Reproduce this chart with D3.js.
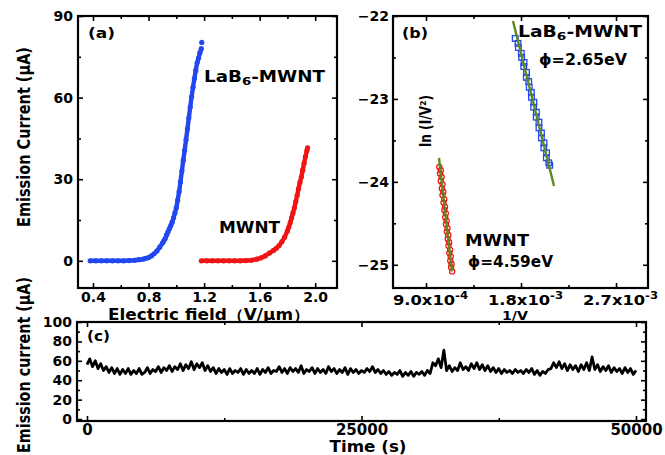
<!DOCTYPE html>
<html>
<head>
<meta charset="utf-8">
<script src="https://cdn.jsdelivr.net/npm/d3@7"></script>
<style>
body { margin: 0; background: #fff; }
text { font-family: "DejaVu Sans", sans-serif; font-weight: bold; fill: #000; }
</style>
</head>
<body>
<script>
// (a) emission current vs electric field
var lab6Field   = [0.38,0.42,0.46,0.50,0.54,0.58,0.62,0.66,0.70,0.73,0.76,0.78,0.80,0.82,0.84,0.86,0.88,0.90,0.91,0.92,0.93,0.94,0.95,0.96,0.97,0.98,0.99,1.00,1.01,1.02,1.03,1.04,1.05,1.06,1.07,1.08,1.09,1.10,1.11,1.12,1.13,1.14,1.15,1.16,1.17,1.18,1.183];
var lab6Current = [0,0,0,0,0,0,0,0.1,0.2,0.4,0.6,0.9,1.2,1.8,2.6,3.6,5.0,6.5,7.3,8.2,9.5,10.6,11.8,12.9,14.2,15.8,17.6,19.5,22.3,25.4,29,33,37,40.6,44.5,48.5,52.5,56.5,60.3,63.8,67,70,72.8,74.5,76.5,78,80.3];
var mwntField   = [1.18,1.22,1.26,1.30,1.34,1.38,1.42,1.46,1.50,1.54,1.58,1.61,1.64,1.67,1.70,1.72,1.74,1.76,1.78,1.80,1.81,1.82,1.83,1.84,1.85,1.86,1.87,1.88,1.89,1.90,1.91,1.92,1.93,1.94,1.945];
var mwntCurrent = [0,0,0,0,0,0,0,0,0.1,0.2,0.6,1.1,1.8,2.8,3.8,4.6,5.6,7.0,8.7,11,12.4,14,15.8,17.6,19.5,21.8,24,26.5,28.8,30.8,33.3,35.8,38.3,40.5,41.5];
var fieldTicks = [0.4,0.8,1.2,1.6,2.0];
var currentTicks = [0,30,60,90];

// (b) Fowler-Nordheim plot
var lab6InvV = [0.001745,0.001772,0.001775,0.001803,0.001806,0.001829,0.001826,0.001852,0.001850,0.001873,0.001878,0.001898,0.001899,0.001922,0.001920,0.001946,0.001944,0.001970,0.001970,0.001994,0.001993,0.002018,0.002016,0.002042,0.002040,0.002063,0.002072];
var lab6Ln   = [-22.27,-22.33,-22.38,-22.45,-22.50,-22.56,-22.61,-22.68,-22.74,-22.79,-22.86,-22.92,-22.98,-23.04,-23.10,-23.16,-23.22,-23.28,-23.35,-23.41,-23.47,-23.53,-23.59,-23.65,-23.71,-23.77,-23.80];
var mwntInvV = [0.001026,0.001040,0.001033,0.001048,0.001040,0.001057,0.001050,0.001064,0.001056,0.001073,0.001066,0.001080,0.001074,0.001088,0.001082,0.001096,0.001089,0.001104,0.001097,0.001111,0.001106,0.001119,0.001113,0.001128,0.001121,0.001134,0.001130,0.001142,0.001138,0.001148];
var mwntLn   = [-23.82,-23.86,-23.90,-23.94,-23.99,-24.03,-24.08,-24.12,-24.16,-24.21,-24.25,-24.30,-24.34,-24.38,-24.43,-24.47,-24.51,-24.56,-24.60,-24.64,-24.69,-24.73,-24.77,-24.82,-24.86,-24.90,-24.95,-24.99,-25.03,-25.08];
var lab6FitInvV = [0.001724, 0.002113], lab6FitLn = [-22.06, -24.05];
var mwntFitInvV = [0.001023, 0.001146], mwntFitLn = [-23.71, -25.08];
var invVTicks = [["9.0x10","-4",0.0009],["1.8x10","-3",0.0018],["2.7x10","-3",0.0027]];
var lnTicks = [-22,-23,-24,-25];

// (c) stability, one reading every 250 s
var stability = [
 56,62,54,60,52,57,50,54,48,53,47,52,46,51,47,52,46,50,47,52,46,
 48,53,47,51,49,54,48,53,50,55,49,54,51,57,50,56,52,59,51,57,
 53,58,50,55,49,53,47,52,48,51,46,52,47,50,48,52,46,51,47,50,
 47,52,46,51,48,53,47,50,49,54,48,52,47,53,49,52,48,55,47,51,
 49,53,47,52,48,51,47,54,49,52,47,51,48,53,46,52,48,51,47,50,
 48,52,49,54,48,51,47,50,46,49,45,48,46,50,44,48,45,49,44,48,
 46,49,45,50,47,58,55,62,53,71,50,55,49,53,50,58,51,54,50,57,
 52,58,51,56,50,55,49,53,48,52,47,51,48,50,47,51,48,50,47,51,
 48,52,46,50,45,49,47,51,52,58,53,59,52,57,50,56,51,55,49,56,
 51,58,50,64,51,56,49,54,50,55,48,53,49,52,47,53,48,52,46,50];
var times = d3.range(0, 50001, 250);
var timeTicks = [0,25000,50000];
var stabTicks = [0,20,40,60,80,100];

var blue = "#2246f0", red = "#f01414", green = "#5d8a1e";

var svg = d3.select("body").append("svg")
    .attr("width", 665)
    .attr("height", 455);

function ticks(axisFn, scale, pos, values, size, label, pad) {
  var a = axisFn(scale).tickValues(values).tickSize(-size).tickPadding(pad || 5);
  if (!label) a.tickFormat("");
  var g = svg.append("g").attr("transform", pos).call(a);
  g.select(".domain").remove();
  g.selectAll("line").attr("stroke", "#000").attr("stroke-width", 1.6);
  g.selectAll("text").attr("font-size", 14).style("font-family", "DejaVu Sans").style("font-weight", "bold");
  return g;
}

function frame(l, t, r, b) {
  svg.append("rect")
    .attr("x", l).attr("y", t)
    .attr("width", r - l).attr("height", b - t)
    .attr("fill", "none").attr("stroke", "#000").attr("stroke-width", 2.2);
}

function label(txt, x, y, size, len, anchor) {
  var t = svg.append("text")
    .attr("x", x).attr("y", y)
    .attr("font-size", size)
    .attr("text-anchor", anchor || "start")
    .text(txt);
  if (len) t.attr("textLength", len).attr("lengthAdjust", "spacingAndGlyphs");
  return t;
}

function lab6Label(x, y, len) {
  var t = svg.append("text").attr("x", x).attr("y", y).attr("font-size", 15)
    .attr("textLength", len).attr("lengthAdjust", "spacingAndGlyphs");
  t.append("tspan").text("LaB");
  t.append("tspan").attr("font-size", 11).attr("dy", 3).text("6");
  t.append("tspan").attr("dy", -3).text("-MWNT");
}

// ---------- (a) ----------
var xa = d3.scaleLinear().domain([0.292, 2.157]).range([78, 337]);
var ya = d3.scaleLinear().domain([-10, 90]).range([288, 16]);

ticks(d3.axisBottom, xa, "translate(0,288)", fieldTicks, 5, true, 4)
  .selectAll("text").text(function(d) { return d3.format(".1f")(d); });
ticks(d3.axisBottom, xa, "translate(0,288)", [0.6,1.0,1.4,1.8], 3);
ticks(d3.axisTop, xa, "translate(0,16)", fieldTicks, 5);
ticks(d3.axisTop, xa, "translate(0,16)", [0.6,1.0,1.4,1.8], 3);
ticks(d3.axisLeft, ya, "translate(78,0)", currentTicks, 5, true, 5);
ticks(d3.axisLeft, ya, "translate(78,0)", [15,45,75], 3);
ticks(d3.axisRight, ya, "translate(337,0)", currentTicks, 5);
ticks(d3.axisRight, ya, "translate(337,0)", [15,45,75], 3);

var lineA = d3.line().x(function(d) { return xa(d[0]); }).y(function(d) { return ya(d[1]); });
[[lab6Field, lab6Current, blue], [mwntField, mwntCurrent, red]].forEach(function(s) {
  var pts = d3.zip(s[0], s[1]);
  svg.append("path").attr("d", lineA(pts.slice(0, -1))).attr("fill", "none")
    .attr("stroke", s[2]).attr("stroke-width", 4.4).attr("stroke-linejoin", "round");
  svg.append("g").selectAll("circle").data(pts).enter().append("circle")
    .attr("cx", function(d) { return xa(d[0]); })
    .attr("cy", function(d) { return ya(d[1]); })
    .attr("r", 2.6).attr("fill", s[2]);
});
frame(78, 16, 337, 288);

label("(a)", 88, 38, 14, 27);
lab6Label(204, 82, 121);
label("MWNT", 219, 233, 15, 61);
label("Electric field（V/μm）", 209, 320, 15, 202, "middle");
svg.append("text").attr("transform", "translate(30,137) rotate(-90)")
  .attr("text-anchor", "middle").attr("font-size", 17)
  .attr("textLength", 180).attr("lengthAdjust", "spacingAndGlyphs")
  .text("Emission Current (μA)");

// ---------- (b) ----------
var xb = d3.scaleLinear().domain([0.0005874, 0.003003]).range([393, 648]);
var yb = d3.scaleLinear().domain([-25.28, -22]).range([288, 16]);

var bx = ticks(d3.axisBottom, xb, "translate(0,288)", invVTicks.map(function(d) { return d[2]; }), 5);
bx.selectAll(".tick").append("text")
  .attr("x", 4).attr("y", 17)
  .attr("text-anchor", "middle").attr("font-size", 14)
  .attr("textLength", 75).attr("lengthAdjust", "spacingAndGlyphs")
  .each(function(d, i) {
    var t = d3.select(this);
    t.append("tspan").text(invVTicks[i][0]);
    t.append("tspan").attr("font-size", 10).attr("dy", -6).text(invVTicks[i][1]);
  });
ticks(d3.axisBottom, xb, "translate(0,288)", [0.00135, 0.00225], 3);
ticks(d3.axisTop, xb, "translate(0,16)", invVTicks.map(function(d) { return d[2]; }), 5);
ticks(d3.axisTop, xb, "translate(0,16)", [0.00135, 0.00225], 3);
ticks(d3.axisLeft, yb, "translate(393,0)", lnTicks, 5, true, 4)
  .selectAll("text").text(function(d) { return d3.format("d")(d); });
ticks(d3.axisLeft, yb, "translate(393,0)", [-22.5,-23.5,-24.5], 3);
ticks(d3.axisRight, yb, "translate(648,0)", lnTicks, 5);
ticks(d3.axisRight, yb, "translate(648,0)", [-22.5,-23.5,-24.5], 3);

lab6Label(518, 37, 124);
label("ϕ=2.65eV", 539, 65, 15, 88);
label("MWNT", 465, 246, 15, 64);
label("ϕ=4.59eV", 468, 267, 15, 85);

svg.append("g").selectAll("rect").data(d3.zip(lab6InvV, lab6Ln)).enter().append("rect")
  .attr("x", function(d) { return xb(d[0]) - 2.8; })
  .attr("y", function(d) { return yb(d[1]) - 2.8; })
  .attr("width", 5.6).attr("height", 5.6)
  .attr("fill", "none").attr("stroke", blue).attr("stroke-width", 1.3);
svg.append("g").selectAll("circle").data(d3.zip(mwntInvV, mwntLn)).enter().append("circle")
  .attr("cx", function(d) { return xb(d[0]); })
  .attr("cy", function(d) { return yb(d[1]); })
  .attr("r", 2.6)
  .attr("fill", "none").attr("stroke", red).attr("stroke-width", 1.2);

var lineB = d3.line().x(function(d) { return xb(d[0]); }).y(function(d) { return yb(d[1]); });
[[lab6FitInvV, lab6FitLn], [mwntFitInvV, mwntFitLn]].forEach(function(f) {
  svg.append("path").attr("d", lineB(d3.zip(f[0], f[1])))
    .attr("fill", "none").attr("stroke", green).attr("stroke-width", 2.4);
});
frame(393, 16, 648, 288);

label("(b)", 402, 38, 14, 26);
label("1/V", 515, 320, 12, 26, "middle");
svg.append("text").attr("transform", "translate(431,121) rotate(-90)")
  .attr("text-anchor", "middle").attr("font-size", 15)
  .attr("textLength", 52).attr("lengthAdjust", "spacingAndGlyphs")
  .text("ln (I/V²)");

// ---------- (c) ----------
var xc = d3.scaleLinear().domain([-911, 50911]).range([77, 646]);
var yc = d3.scaleLinear().domain([-2, 100]).range([421, 322]);

ticks(d3.axisBottom, xc, "translate(0,421)", timeTicks, 5, true, 3)
  .selectAll("text").attr("font-size", 15).text(function(d) { return d; });
ticks(d3.axisBottom, xc, "translate(0,421)", [12500, 37500], 3);
ticks(d3.axisTop, xc, "translate(0,322)", timeTicks, 5);
ticks(d3.axisTop, xc, "translate(0,322)", [12500, 37500], 3);
ticks(d3.axisLeft, yc, "translate(77,0)", stabTicks, 5, true, 5);
ticks(d3.axisLeft, yc, "translate(77,0)", [10,30,50,70,90], 3);
ticks(d3.axisRight, yc, "translate(646,0)", stabTicks, 5);
ticks(d3.axisRight, yc, "translate(646,0)", [10,30,50,70,90], 3);

var lineC = d3.line().x(function(d) { return xc(d[0]); }).y(function(d) { return yc(d[1]); });
svg.append("path").attr("d", lineC(d3.zip(times, stability)))
  .attr("fill", "none").attr("stroke", "#000").attr("stroke-width", 2.8)
  .attr("stroke-linejoin", "round");
frame(77, 322, 646, 421);

label("(c)", 87, 341, 14, 23);
label("Time (s)", 368, 452, 15, 77, "middle");
svg.append("text").attr("transform", "translate(30,365) rotate(-90)")
  .attr("text-anchor", "middle").attr("font-size", 17)
  .attr("textLength", 176).attr("lengthAdjust", "spacingAndGlyphs")
  .text("Emission current (μA)");
</script>
</body>
</html>
